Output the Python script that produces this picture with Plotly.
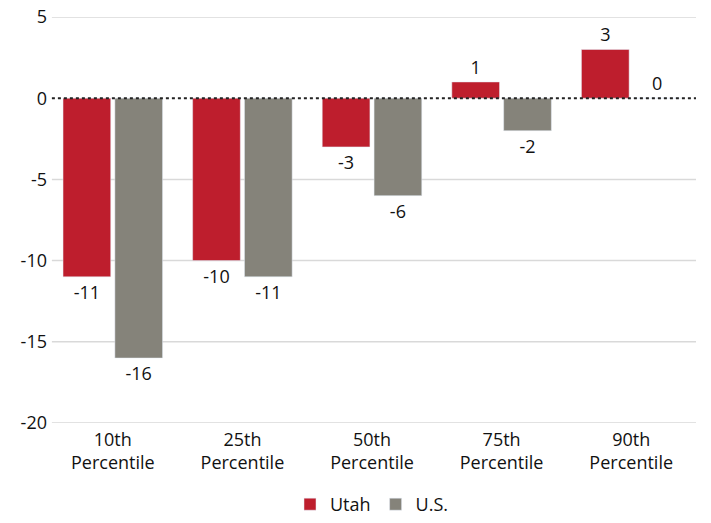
import plotly.graph_objects as go

categories = ["10th<br>Percentile", "25th<br>Percentile", "50th<br>Percentile",
              "75th<br>Percentile", "90th<br>Percentile"]
utah = [-11, -10, -3, 1, 3]
us = [-16, -11, -6, -2, 0]
y_ticks = [5, 0, -5, -10, -15, -20]

RED = "#BE1E2D"
GRAY = "#85837A"
FONT = "Open Sans"

fig = go.Figure()
fig.add_trace(go.Bar(name="Utah", x=categories, y=utah, marker_color=RED,
                     text=[str(v) for v in utah], textposition="outside",
                     textfont=dict(size=18, color="#111111"), cliponaxis=False))
fig.add_trace(go.Bar(name="U.S.", x=categories, y=us, marker_color=GRAY,
                     text=[str(v) for v in us], textposition="outside",
                     textfont=dict(size=18, color="#111111"), cliponaxis=False))

# light horizontal gridlines (zero gets its own dotted line)
for v in y_ticks:
    if v != 0:
        fig.add_shape(type="line", xref="paper", yref="y", x0=0.006, x1=1.0, y0=v, y1=v,
                      line=dict(color="#D9D9D9", width=1.5), layer="below")

# dotted zero reference line drawn over the bars
fig.add_shape(type="line", xref="paper", yref="y", x0=0.006, x1=1.0, y0=0, y1=0,
              line=dict(color="#222222", width=2, dash="dot"), layer="above")

fig.update_layout(
    width=711, height=523,
    margin=dict(l=48, r=15, t=17, b=100),
    plot_bgcolor="white", paper_bgcolor="white",
    font=dict(family=FONT, size=18, color="#111111"),
    barmode="group", bargap=0.2, bargroupgap=0.08,
    legend=dict(orientation="h", x=0.5, xanchor="center",
                yref="container", y=0.0, yanchor="bottom",
                font=dict(size=18), traceorder="normal"),
)
fig.update_yaxes(range=[-20, 5], tickvals=y_ticks, ticktext=[str(v) for v in y_ticks],
                 showgrid=False, zeroline=False, showline=False, ticks="", ticklen=0,
                 tickfont=dict(size=18), automargin=False)
fig.update_xaxes(showgrid=False, showline=False, ticks="", tickfont=dict(size=18),
                 ticklabelstandoff=4, automargin=False)

fig.write_html("out.html")
